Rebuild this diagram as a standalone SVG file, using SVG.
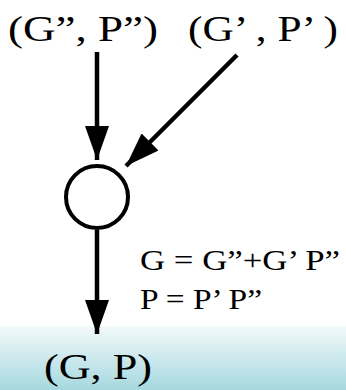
<svg xmlns="http://www.w3.org/2000/svg" width="346" height="390" viewBox="0 0 346 390">
<defs>
<linearGradient id="bg" x1="0" y1="0" x2="0" y2="1">
<stop offset="0" stop-color="#f3fafb"/>
<stop offset="1" stop-color="#a6d8df"/>
</linearGradient>
<marker id="ah" viewBox="0 0 34 24" refX="34" refY="12" markerWidth="34" markerHeight="24" markerUnits="userSpaceOnUse" orient="auto">
<path d="M0,0 L34,12 L0,24 Z" fill="#000"/>
</marker>
<style>
.t{font-family:"Liberation Serif","Times New Roman",serif;fill:#000;}
.big{font-size:36px;}
.eq{font-size:29px;}
.c{fill:none;stroke:#000;stroke-width:4.5;}
</style>
</defs>
<rect x="0" y="0" width="346" height="390" fill="#fff"/>
<rect x="0" y="326" width="346" height="64" fill="url(#bg)"/>
<g id="connectors">
<line class="c" x1="97" y1="52" x2="97" y2="160" marker-end="url(#ah)"/>
<line class="c" x1="237" y1="55" x2="126" y2="166" marker-end="url(#ah)"/>
<line class="c" x1="97" y1="230" x2="97" y2="334" marker-end="url(#ah)"/>
</g>
<g id="input2">
<text class="t big" x="8" y="41" textLength="150" lengthAdjust="spacingAndGlyphs">(G”, P”)</text>
</g>
<g id="input1">
<text class="t big" x="188" y="41" textLength="150" lengthAdjust="spacingAndGlyphs">(G’ , P’ )</text>
</g>
<g id="operator">
<circle cx="97" cy="197" r="31" fill="#fff" stroke="#000" stroke-width="4"/>
</g>
<g id="equations">
<text class="t eq" x="140" y="270" textLength="200" lengthAdjust="spacingAndGlyphs">G = G”+G’ P”</text>
<text class="t eq" x="140" y="309" textLength="122" lengthAdjust="spacingAndGlyphs">P = P’ P”</text>
</g>
<g id="output">
<text class="t big" x="44" y="379" textLength="108" lengthAdjust="spacingAndGlyphs">(G, P)</text>
</g>
</svg>
